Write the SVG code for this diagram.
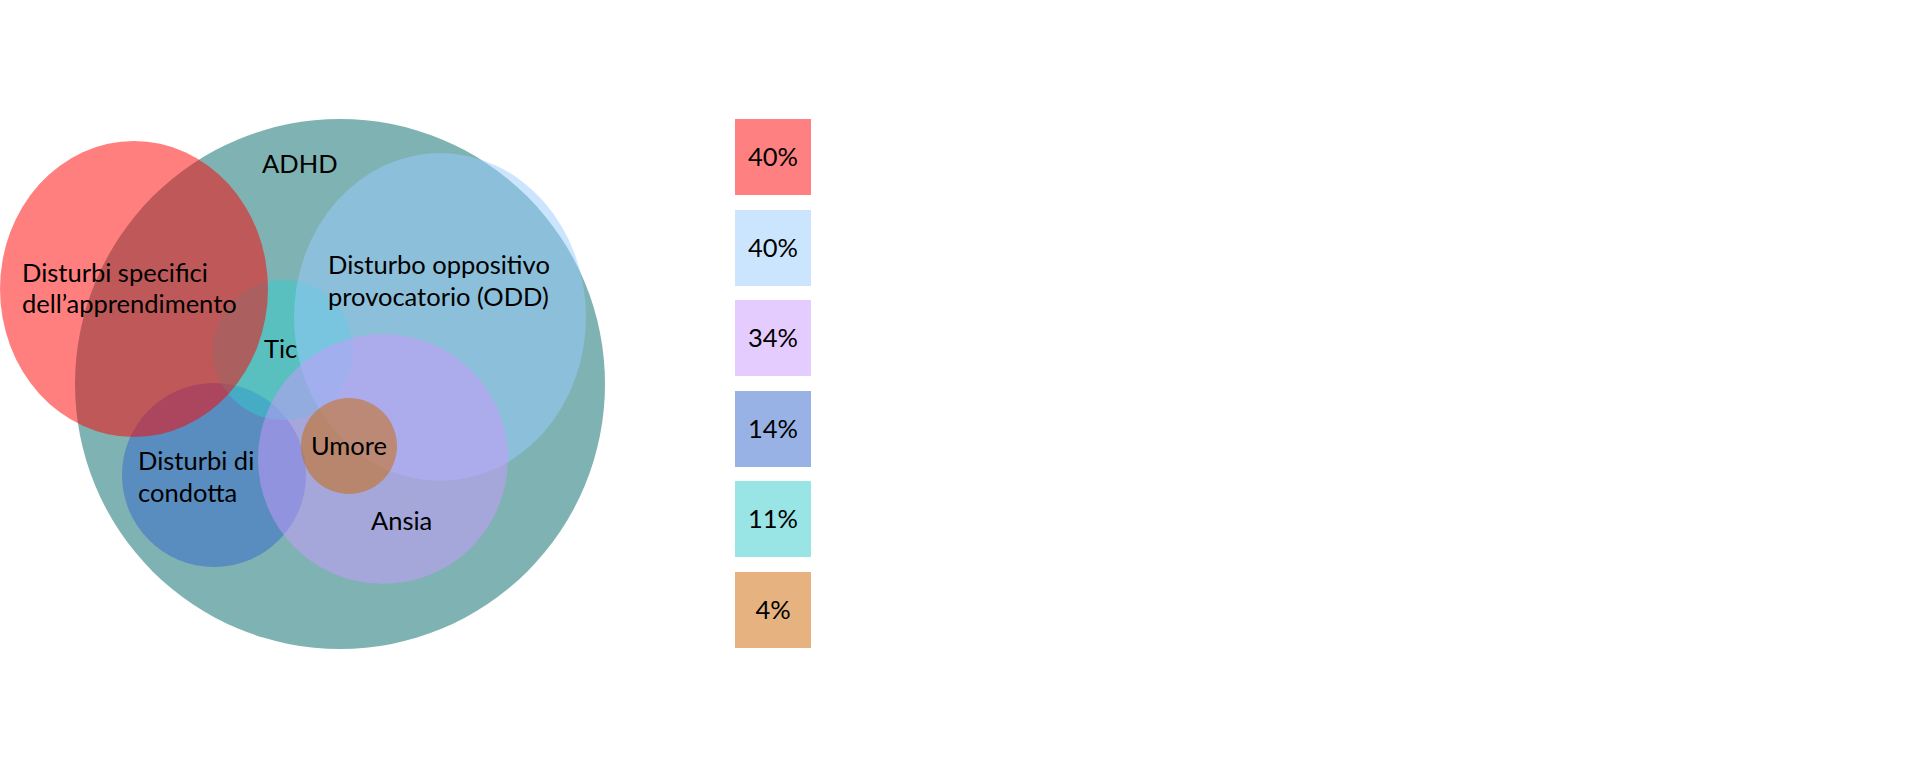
<svg xmlns="http://www.w3.org/2000/svg" width="1920" height="768" viewBox="0 0 1920 768">
<style>
.set{opacity:0.5}
.lbl{font-family:"Lato","Noto Sans",sans-serif;font-size:25.5px;fill:#000}
.leg{font-family:"Lato","Noto Sans",sans-serif;font-size:25.5px;fill:#000;text-anchor:middle}
</style>
<rect width="1920" height="768" fill="#fff"/>
<g id="adhd"><circle class="set" cx="340" cy="384" r="265" fill="#006666"/></g>
<g id="condotta"><circle class="set" cx="214" cy="475" r="92" fill="#3366CC"/></g>
<g id="tic"><circle class="set" cx="283" cy="350" r="70" fill="#33CCCC"/></g>
<g id="dsa"><ellipse class="set" cx="134" cy="289" rx="134" ry="148" fill="#FF0000"/></g>
<g id="odd"><ellipse class="set" cx="440" cy="317" rx="146" ry="164" fill="#99CCFF"/></g>
<g id="ansia"><circle class="set" cx="383" cy="459" r="125" fill="#CC99FF"/></g>
<g id="umore"><circle class="set" cx="349" cy="446" r="48" fill="#CC6600"/></g>
<g id="labels">
<text class="lbl" x="262" y="173">ADHD</text>
<text class="lbl" x="22" y="282">Disturbi specifici</text>
<text class="lbl" x="22" y="313">dell’apprendimento</text>
<text class="lbl" x="328" y="274">Disturbo oppositivo</text>
<text class="lbl" x="328" y="306">provocatorio (ODD)</text>
<text class="lbl" x="264" y="358">Tic</text>
<text class="lbl" x="311" y="455">Umore</text>
<text class="lbl" x="138" y="470">Disturbi di</text>
<text class="lbl" x="138" y="502">condotta</text>
<text class="lbl" x="371" y="530">Ansia</text>
</g>
<g id="legend">
<g id="leg-dsa"><rect x="735" y="119" width="76" height="76" fill="#FF8080"/><text class="leg" x="773" y="166">40%</text></g>
<g id="leg-odd"><rect x="735" y="210" width="76" height="76" fill="#CCE5FF"/><text class="leg" x="773" y="257">40%</text></g>
<g id="leg-ansia"><rect x="735" y="300" width="76" height="76" fill="#E5CCFF"/><text class="leg" x="773" y="347">34%</text></g>
<g id="leg-condotta"><rect x="735" y="391" width="76" height="76" fill="#99B2E5"/><text class="leg" x="773" y="438">14%</text></g>
<g id="leg-tic"><rect x="735" y="481" width="76" height="76" fill="#99E5E5"/><text class="leg" x="773" y="528">11%</text></g>
<g id="leg-umore"><rect x="735" y="572" width="76" height="76" fill="#E5B280"/><text class="leg" x="773" y="619">4%</text></g>
</g>
</svg>
